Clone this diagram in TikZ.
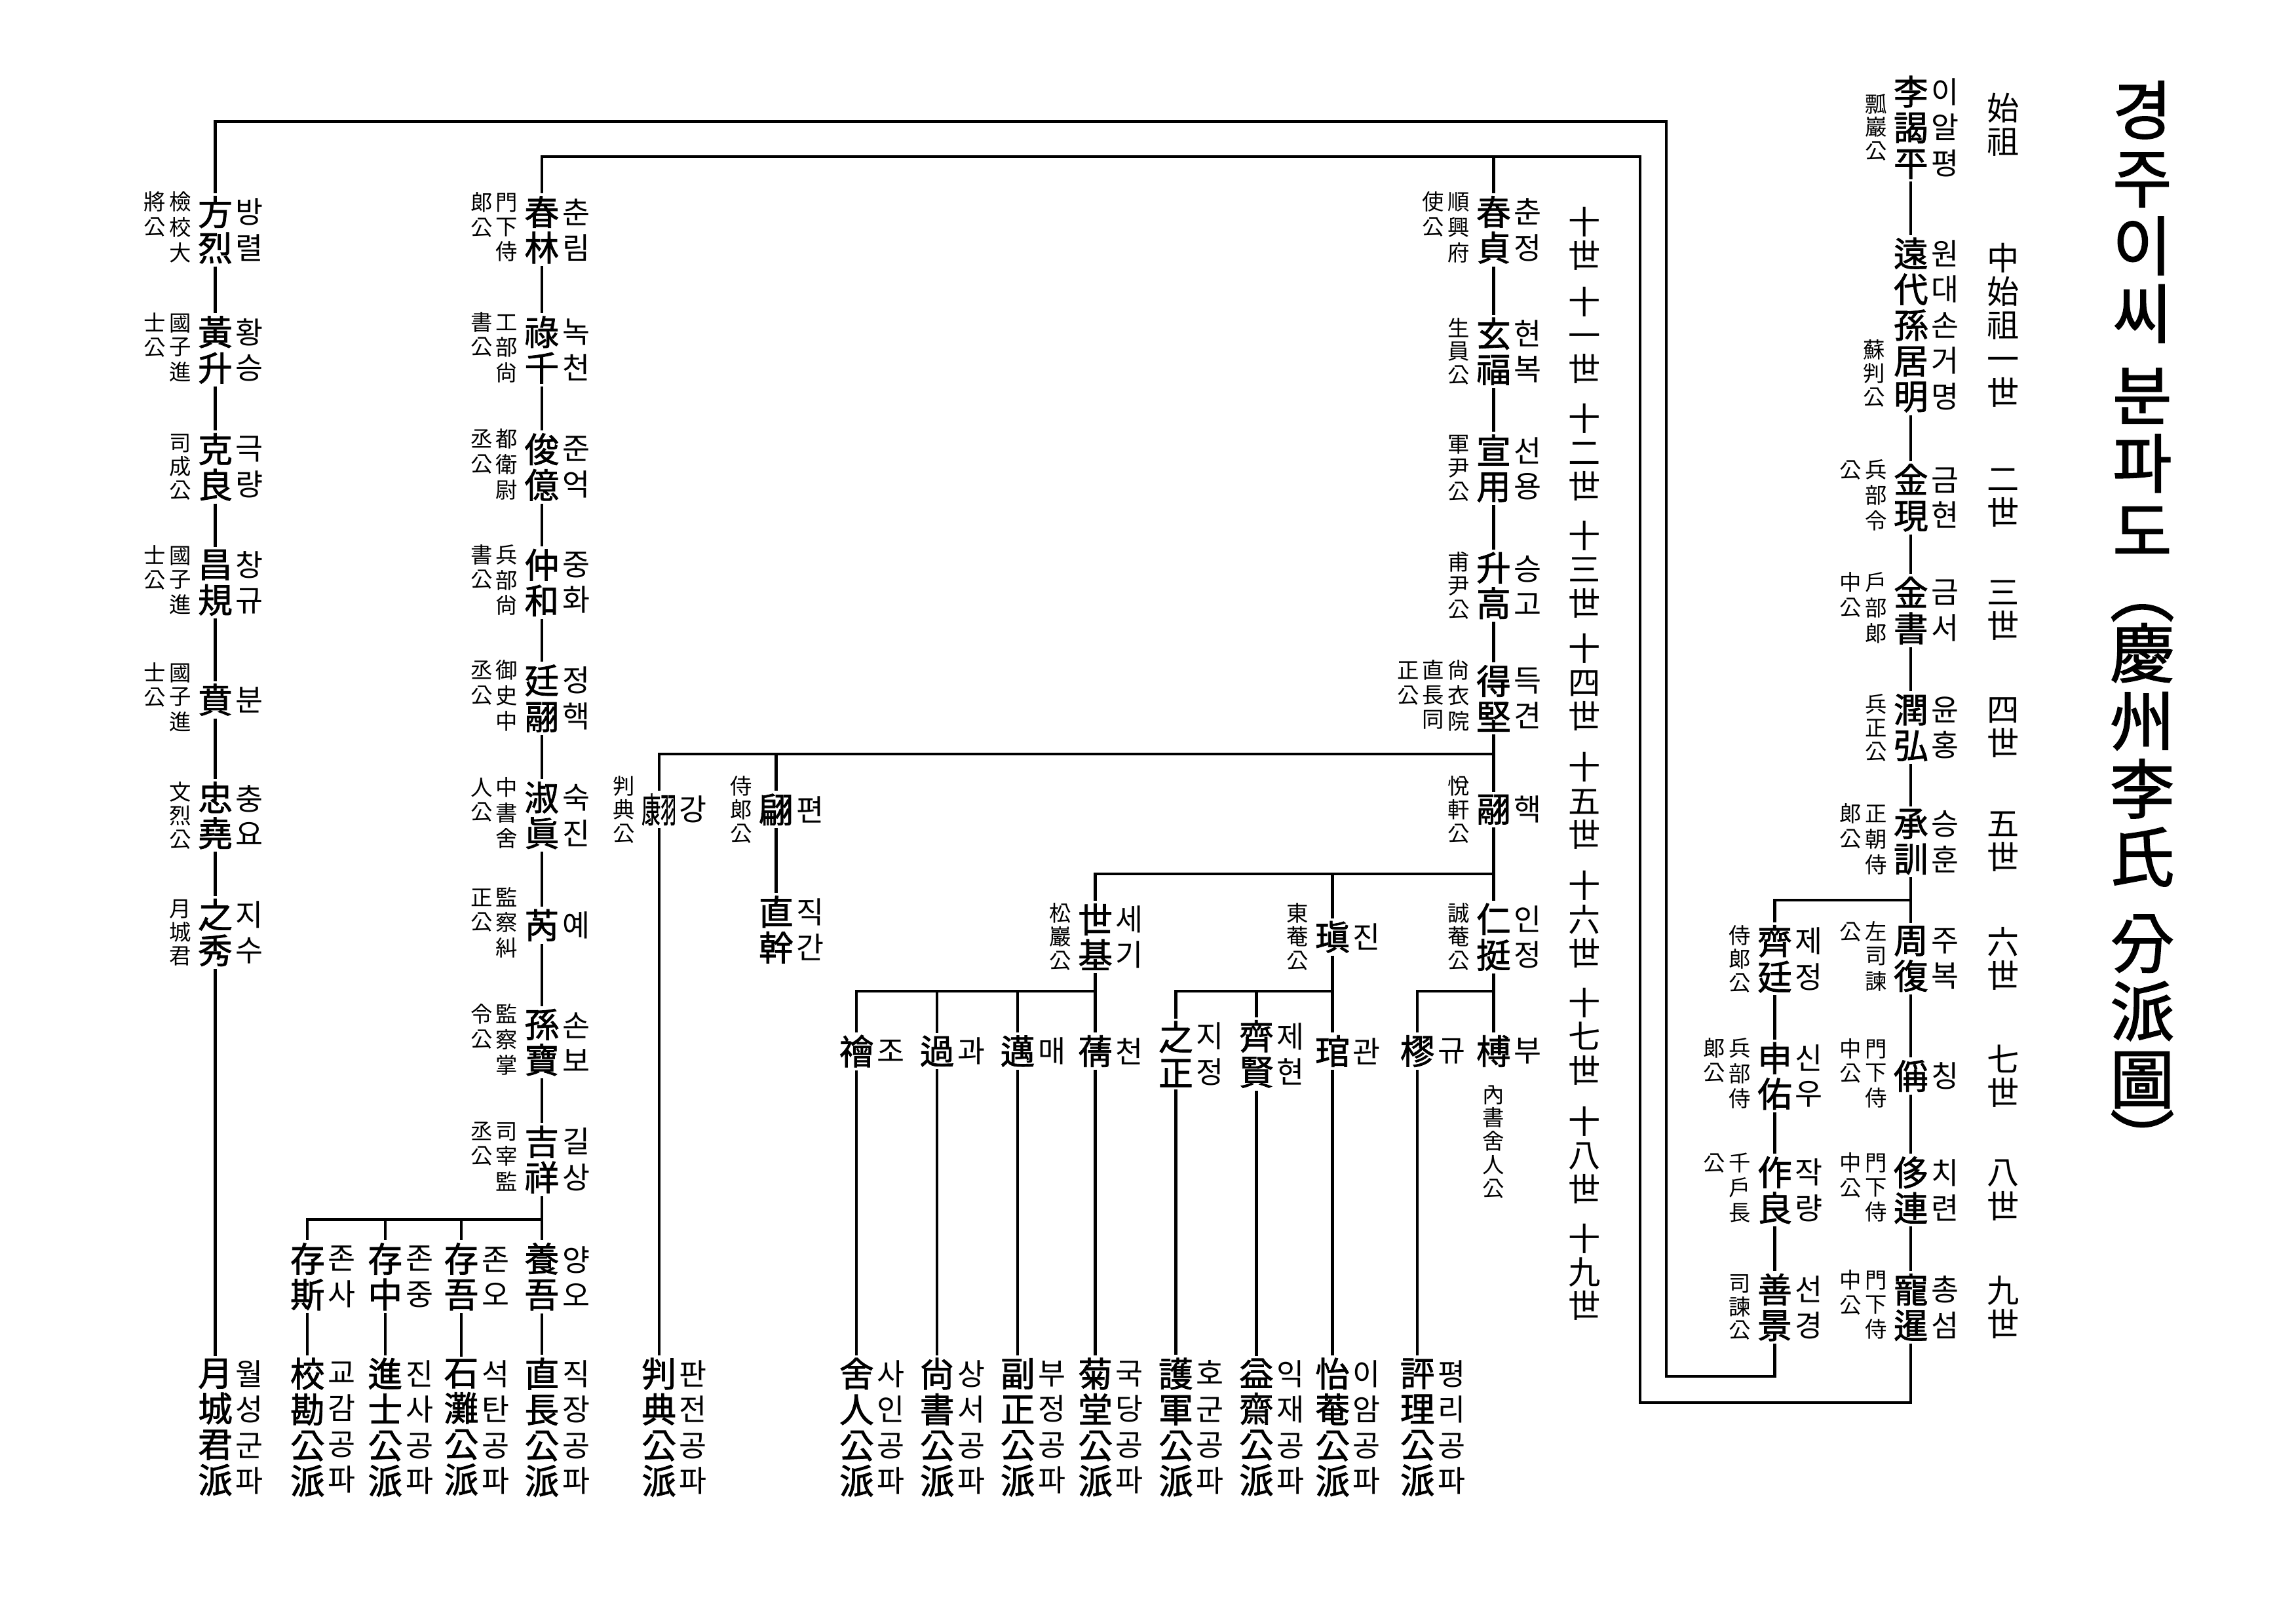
\documentclass[tikz,border=0pt]{standalone}
\usepackage{fontspec}
\setmainfont{Noto Sans CJK KR}
\newfontfamily\hjfont{Noto Sans CJK KR}[FakeBold=1.5]
\usetikzlibrary{positioning}

% office titles: first (right) column, then second (left) column
\newcommand\twocol[2]{\begin{tabular}[t]{@{}c@{}}#2\end{tabular}\hspace{1.5pt}\begin{tabular}[t]{@{}c@{}}#1\end{tabular}}
\newcommand\kangchar{\scalebox{0.55}[1]{康}\scalebox{0.45}[1]{羽}}

\begin{document}
\begin{tikzpicture}[
  x=0.022347cm, y=-0.022347cm,
  nm/.style={font=\hjfont\fontsize{15}{15.5}\selectfont, align=center, inner sep=1pt},
  rd/.style={font=\fontsize{13}{15.5}\selectfont, align=center, inner sep=1pt},
  tl/.style={font=\fontsize{9.5}{10.2}\selectfont, align=center, inner sep=0.5pt},
  gen/.style={font=\fontsize{14}{14.6}\selectfont, align=center, inner sep=1pt},
  ln/.style={line width=1.2pt}
]
\fill[white] (0,0) rectangle (1568,1109);
\useasboundingbox (0,0) rectangle (1568,1109);

% heading
\node[font=\hjfont\fontsize{28}{29.5}\selectfont, align=center, anchor=north, inner sep=0pt] (head) at (1463,55)
  {경\\주\\이\\씨\\[6pt]분\\파\\도\\[-3pt]︵\\[-3pt]慶\\州\\李\\氏\\[8pt]分\\派\\圖\\[-3pt]︶};

% generations
\node[gen] (g0) at (1368,85) {始\\祖};
\node[gen] (g1) at (1368,222) {中\\始\\祖\\一\\世};
\node[gen] (g2) at (1368,340) {二\\世};
\node[gen] (g3) at (1368,417) {三\\世};
\node[gen] (g4) at (1368,497) {四\\世};
\node[gen] (g5) at (1368,575) {五\\世};
\node[gen] (g6) at (1368,655) {六\\世};
\node[gen] (g7) at (1368,735) {七\\世};
\node[gen] (g8) at (1368,813) {八\\世};
\node[gen] (g9) at (1368,893) {九\\世};
\node[gen] (g10) at (1082,163) {十\\世};
\node[gen] (g11) at (1082,229) {十\\一\\世};
\node[gen] (g12) at (1082,309) {十\\二\\世};
\node[gen] (g13) at (1082,389) {十\\三\\世};
\node[gen] (g14) at (1082,466) {十\\四\\世};
\node[gen] (g15) at (1082,547) {十\\五\\世};
\node[gen] (g16) at (1082,628) {十\\六\\世};
\node[gen] (g17) at (1082,708) {十\\七\\世};
\node[gen] (g18) at (1082,789) {十\\八\\世};
\node[gen] (g19) at (1082,869) {十\\九\\世};

% main line, 1st to 9th
\node[nm] (r0) at (1305,87) {李\\謁\\平};
\node[rd, right=-1pt of r0] (r0h) {이\\알\\평};
\node[tl, left=1pt of r0] (r0t) {瓢\\巖\\公};
\node[nm] (r1) at (1305,222) {遠\\代\\孫\\居\\明};
\node[rd, right=-1pt of r1] (r1h) {원\\대\\손\\거\\명};
\node[tl] (r1t) at (1280,255) {蘇\\判\\公};
\node[nm] (r2) at (1305,340) {金\\現};
\node[rd, right=-1pt of r2] (r2h) {금\\현};
\node[tl, left=1pt of r2] (r2t) {\twocol{兵\\部\\令}{公}};
\node[nm] (r3) at (1305,417) {金\\書};
\node[rd, right=-1pt of r3] (r3h) {금\\서};
\node[tl, left=1pt of r3] (r3t) {\twocol{戶\\部\\郞}{中\\公}};
\node[nm] (r4) at (1305,497) {潤\\弘};
\node[rd, right=-1pt of r4] (r4h) {윤\\홍};
\node[tl, left=1pt of r4] (r4t) {兵\\正\\公};
\node[nm] (r5) at (1305,575) {承\\訓};
\node[rd, right=-1pt of r5] (r5h) {승\\훈};
\node[tl, left=1pt of r5] (r5t) {\twocol{正\\朝\\侍}{郞\\公}};
\node[nm] (r6) at (1305,655) {周\\復};
\node[rd, right=-1pt of r6] (r6h) {주\\복};
\node[tl, left=1pt of r6] (r6t) {\twocol{左\\司\\諫}{公}};
\node[nm] (r7) at (1305,735) {偁};
\node[rd, right=-1pt of r7] (r7h) {칭};
\node[tl, left=1pt of r7] (r7t) {\twocol{門\\下\\侍}{中\\公}};
\node[nm] (r8) at (1305,813) {侈\\連};
\node[rd, right=-1pt of r8] (r8h) {치\\련};
\node[tl, left=1pt of r8] (r8t) {\twocol{門\\下\\侍}{中\\公}};
\node[nm] (r9) at (1305,893) {寵\\暹};
\node[rd, right=-1pt of r9] (r9h) {총\\섬};
\node[tl, left=1pt of r9] (r9t) {\twocol{門\\下\\侍}{中\\公}};

\node[nm] (s6) at (1212,655) {齊\\廷};
\node[rd, right=-1pt of s6] (s6h) {제\\정};
\node[tl, left=1pt of s6] (s6t) {侍\\郞\\公};
\node[nm] (s7) at (1212,735) {申\\佑};
\node[rd, right=-1pt of s7] (s7h) {신\\우};
\node[tl, left=1pt of s7] (s7t) {\twocol{兵\\部\\侍}{郞\\公}};
\node[nm] (s8) at (1212,813) {作\\良};
\node[rd, right=-1pt of s8] (s8h) {작\\량};
\node[tl, left=1pt of s8] (s8t) {\twocol{千\\戶\\長}{公}};
\node[nm] (s9) at (1212,893) {善\\景};
\node[rd, right=-1pt of s9] (s9h) {선\\경};
\node[tl, left=1pt of s9] (s9t) {司\\諫\\公};

% 10th to 16th
\node[nm] (c10) at (1020,157) {春\\貞};
\node[rd, right=-1pt of c10] (c10h) {춘\\정};
\node[tl, left=1pt of c10] (c10t) {\twocol{順\\興\\府}{使\\公}};
\node[nm] (c11) at (1020,240) {玄\\福};
\node[rd, right=-1pt of c11] (c11h) {현\\복};
\node[tl, left=1pt of c11] (c11t) {生\\員\\公};
\node[nm] (c12) at (1020,320) {宣\\用};
\node[rd, right=-1pt of c12] (c12h) {선\\용};
\node[tl, left=1pt of c12] (c12t) {軍\\尹\\公};
\node[nm] (c13) at (1020,400) {升\\高};
\node[rd, right=-1pt of c13] (c13h) {승\\고};
\node[tl, left=1pt of c13] (c13t) {甫\\尹\\公};
\node[nm] (c14) at (1020,477) {得\\堅};
\node[rd, right=-1pt of c14] (c14h) {득\\견};
\node[tl, left=1pt of c14] (c14t) {\begin{tabular}[t]{@{}c@{}}正\\公\end{tabular}\hspace{1.5pt}\twocol{尙\\衣\\院}{直\\長\\同}};
\node[nm] (c15) at (1020,553) {翮};
\node[rd, right=-1pt of c15] (c15h) {핵};
\node[tl, left=1pt of c15] (c15t) {悅\\軒\\公};
\node[nm] (c16) at (1020,640) {仁\\挺};
\node[rd, right=-1pt of c16] (c16h) {인\\정};
\node[tl, left=1pt of c16] (c16t) {誠\\菴\\公};
\node[nm] (d16) at (910,640) {瑱};
\node[rd, right=-1pt of d16] (d16h) {진};
\node[tl, left=1pt of d16] (d16t) {東\\菴\\公};
\node[nm] (e16) at (748,640) {世\\基};
\node[rd, right=-1pt of e16] (e16h) {세\\기};
\node[tl, left=1pt of e16] (e16t) {松\\巖\\公};
\node[nm] (k15) at (450,553) {\kangchar};
\node[rd, right=-1pt of k15] (k15h) {강};
\node[tl, left=1pt of k15] (k15t) {判\\典\\公};
\node[nm] (p15) at (530,553) {翩};
\node[rd, right=-1pt of p15] (p15h) {편};
\node[tl, left=1pt of p15] (p15t) {侍\\郞\\公};
\node[nm] (p16) at (530,635) {直\\幹};
\node[rd, right=-1pt of p16] (p16h) {직\\간};

% 17th
\node[nm] (e17a) at (585,718) {禬};
\node[rd, right=-1pt of e17a] (e17ah) {조};
\node[nm] (e17b) at (640,718) {過};
\node[rd, right=-1pt of e17b] (e17bh) {과};
\node[nm] (e17c) at (695,718) {邁};
\node[rd, right=-1pt of e17c] (e17ch) {매};
\node[nm] (e17d) at (748,718) {蒨};
\node[rd, right=-1pt of e17d] (e17dh) {천};
\node[nm] (d17a) at (803,720) {之\\正};
\node[rd, right=-1pt of d17a] (d17ah) {지\\정};
\node[nm] (d17b) at (858,720) {齊\\賢};
\node[rd, right=-1pt of d17b] (d17bh) {제\\현};
\node[nm] (d17c) at (910,718) {琯};
\node[rd, right=-1pt of d17c] (d17ch) {관};
\node[nm] (c17a) at (968,718) {樛};
\node[rd, right=-1pt of c17a] (c17ah) {규};
\node[nm] (c17b) at (1020,718) {榑};
\node[rd, right=-1pt of c17b] (c17bh) {부};
\node[tl, anchor=north, yshift=-6pt] (c17bt) at (c17b.south) {內\\書\\舍\\人\\公};

% left lines
\node[nm] (l10) at (147,157) {方\\烈};
\node[rd, right=-1pt of l10] (l10h) {방\\렬};
\node[tl, left=1pt of l10] (l10t) {\twocol{檢\\校\\大}{將\\公}};
\node[nm] (l11) at (147,239) {黃\\升};
\node[rd, right=-1pt of l11] (l11h) {황\\승};
\node[tl, left=1pt of l11] (l11t) {\twocol{國\\子\\進}{士\\公}};
\node[nm] (l12) at (147,319) {克\\良};
\node[rd, right=-1pt of l12] (l12h) {극\\량};
\node[tl, left=1pt of l12] (l12t) {司\\成\\公};
\node[nm] (l13) at (147,398) {昌\\規};
\node[rd, right=-1pt of l13] (l13h) {창\\규};
\node[tl, left=1pt of l13] (l13t) {\twocol{國\\子\\進}{士\\公}};
\node[nm] (l14) at (147,478) {賁};
\node[rd, right=-1pt of l14] (l14h) {분};
\node[tl, left=1pt of l14] (l14t) {\twocol{國\\子\\進}{士\\公}};
\node[nm] (l15) at (147,557) {忠\\堯};
\node[rd, right=-1pt of l15] (l15h) {충\\요};
\node[tl, left=1pt of l15] (l15t) {文\\烈\\公};
\node[nm] (l16) at (147,637) {之\\秀};
\node[rd, right=-1pt of l16] (l16h) {지\\수};
\node[tl, left=1pt of l16] (l16t) {月\\城\\君};

\node[nm] (m10) at (370,157) {春\\林};
\node[rd, right=-1pt of m10] (m10h) {춘\\림};
\node[tl, left=1pt of m10] (m10t) {\twocol{門\\下\\侍}{郞\\公}};
\node[nm] (m11) at (370,239) {祿\\千};
\node[rd, right=-1pt of m11] (m11h) {녹\\천};
\node[tl, left=1pt of m11] (m11t) {\twocol{工\\部\\尙}{書\\公}};
\node[nm] (m12) at (370,319) {俊\\億};
\node[rd, right=-1pt of m12] (m12h) {준\\억};
\node[tl, left=1pt of m12] (m12t) {\twocol{都\\衛\\尉}{丞\\公}};
\node[nm] (m13) at (370,398) {仲\\和};
\node[rd, right=-1pt of m13] (m13h) {중\\화};
\node[tl, left=1pt of m13] (m13t) {\twocol{兵\\部\\尙}{書\\公}};
\node[nm] (m14) at (370,477) {廷\\翮};
\node[rd, right=-1pt of m14] (m14h) {정\\핵};
\node[tl, left=1pt of m14] (m14t) {\twocol{御\\史\\中}{丞\\公}};
\node[nm] (m15) at (370,557) {淑\\眞};
\node[rd, right=-1pt of m15] (m15h) {숙\\진};
\node[tl, left=1pt of m15] (m15t) {\twocol{中\\書\\舍}{人\\公}};
\node[nm] (m16) at (370,632) {芮};
\node[rd, right=-1pt of m16] (m16h) {예};
\node[tl, left=1pt of m16] (m16t) {\twocol{監\\察\\糾}{正\\公}};
\node[nm] (m17) at (370,712) {孫\\寶};
\node[rd, right=-1pt of m17] (m17h) {손\\보};
\node[tl, left=1pt of m17] (m17t) {\twocol{監\\察\\掌}{令\\公}};
\node[nm] (m18) at (370,792) {吉\\祥};
\node[rd, right=-1pt of m18] (m18h) {길\\상};
\node[tl, left=1pt of m18] (m18t) {\twocol{司\\宰\\監}{丞\\公}};
\node[nm] (m19a) at (210,872) {存\\斯};
\node[rd, right=-1pt of m19a] (m19ah) {존\\사};
\node[nm] (m19b) at (263,872) {存\\中};
\node[rd, right=-1pt of m19b] (m19bh) {존\\중};
\node[nm] (m19c) at (315,872) {存\\吾};
\node[rd, right=-1pt of m19c] (m19ch) {존\\오};
\node[nm] (m19d) at (370,872) {養\\吾};
\node[rd, right=-1pt of m19d] (m19dh) {양\\오};

% branches (pa)
\node[nm] (fl) at (147,975) {月\\城\\君\\派};
\node[rd, right=-1pt of fl] (flh) {월\\성\\군\\파};
\node[nm] (fm1) at (210,975) {校\\勘\\公\\派};
\node[rd, right=-1pt of fm1] (fm1h) {교\\감\\공\\파};
\node[nm] (fm2) at (263,975) {進\\士\\公\\派};
\node[rd, right=-1pt of fm2] (fm2h) {진\\사\\공\\파};
\node[nm] (fm3) at (315,975) {石\\灘\\公\\派};
\node[rd, right=-1pt of fm3] (fm3h) {석\\탄\\공\\파};
\node[nm] (fm4) at (370,975) {直\\長\\公\\派};
\node[rd, right=-1pt of fm4] (fm4h) {직\\장\\공\\파};
\node[nm] (fk) at (450,975) {判\\典\\公\\派};
\node[rd, right=-1pt of fk] (fkh) {판\\전\\공\\파};
\node[nm] (fe1) at (585,975) {舍\\人\\公\\派};
\node[rd, right=-1pt of fe1] (fe1h) {사\\인\\공\\파};
\node[nm] (fe2) at (640,975) {尙\\書\\公\\派};
\node[rd, right=-1pt of fe2] (fe2h) {상\\서\\공\\파};
\node[nm] (fe3) at (695,975) {副\\正\\公\\派};
\node[rd, right=-1pt of fe3] (fe3h) {부\\정\\공\\파};
\node[nm] (fe4) at (748,975) {菊\\堂\\公\\派};
\node[rd, right=-1pt of fe4] (fe4h) {국\\당\\공\\파};
\node[nm] (fd1) at (803,975) {護\\軍\\公\\派};
\node[rd, right=-1pt of fd1] (fd1h) {호\\군\\공\\파};
\node[nm] (fd2) at (858,975) {益\\齋\\公\\派};
\node[rd, right=-1pt of fd2] (fd2h) {익\\재\\공\\파};
\node[nm] (fd3) at (910,975) {怡\\菴\\公\\派};
\node[rd, right=-1pt of fd3] (fd3h) {이\\암\\공\\파};
\node[nm] (fc1) at (968,975) {評\\理\\公\\派};
\node[rd, right=-1pt of fc1] (fc1h) {평\\리\\공\\파};

% bus points
\coordinate (busA) at (1138,83);
\coordinate (busA2) at (1138,940);
\coordinate (busB) at (1120,107);
\coordinate (busB2) at (1120,958);
\coordinate (b6) at (1305,615);
\coordinate (b15) at (1020,515);
\coordinate (b16) at (1020,597);
\coordinate (b17) at (748,677);
\coordinate (b19) at (370,833);

% connectors
\foreach \a/\b in {r0/r1,r1/r2,r2/r3,r3/r4,r4/r5,r5/r6,r6/r7,r7/r8,r8/r9,s6/s7,s7/s8,s8/s9,
  c10/c11,c11/c12,c12/c13,c13/c14,c14/c15,c15/c16,c16/c17b,d16/d17c,e16/e17d,p15/p16,
  l10/l11,l11/l12,l12/l13,l13/l14,l14/l15,l15/l16,
  m10/m11,m11/m12,m12/m13,m13/m14,m14/m15,m15/m16,m16/m17,m17/m18,m18/m19d,
  l16/fl,m19a/fm1,m19b/fm2,m19c/fm3,m19d/fm4,k15/fk,
  e17a/fe1,e17b/fe2,e17c/fe3,e17d/fe4,d17a/fd1,d17b/fd2,d17c/fd3,c17a/fc1}
  \draw[ln] (\a.south) -- (\b.north);

\draw[ln] (l10.north) |- (busA) -- (busA2) -| (s9.south);
\draw[ln] (m10.north) |- (busB) -- (busB2) -| (r9.south);
\draw[ln] (c10.north) -- (c10.north |- busB);
\draw[ln] (b6) -| (s6.north);
\draw[ln] (b15) -| (k15.north);
\draw[ln] (b15 -| p15) -- (p15.north);
\draw[ln] (b16) -| (e16.north);
\draw[ln] (b16 -| d16) -- (d16.north);
\draw[ln] (b17) -| (e17a.north);
\draw[ln] (b17 -| e17b) -- (e17b.north);
\draw[ln] (b17 -| e17c) -- (e17c.north);
\draw[ln] (b17 -| d16) -| (d17a.north);
\draw[ln] (b17 -| d17b) -- (d17b.north);
\draw[ln] (b17 -| c16) -| (c17a.north);
\draw[ln] (b19) -| (m19a.north);
\draw[ln] (b19 -| m19b) -- (m19b.north);
\draw[ln] (b19 -| m19c) -- (m19c.north);
\end{tikzpicture}
\end{document}
